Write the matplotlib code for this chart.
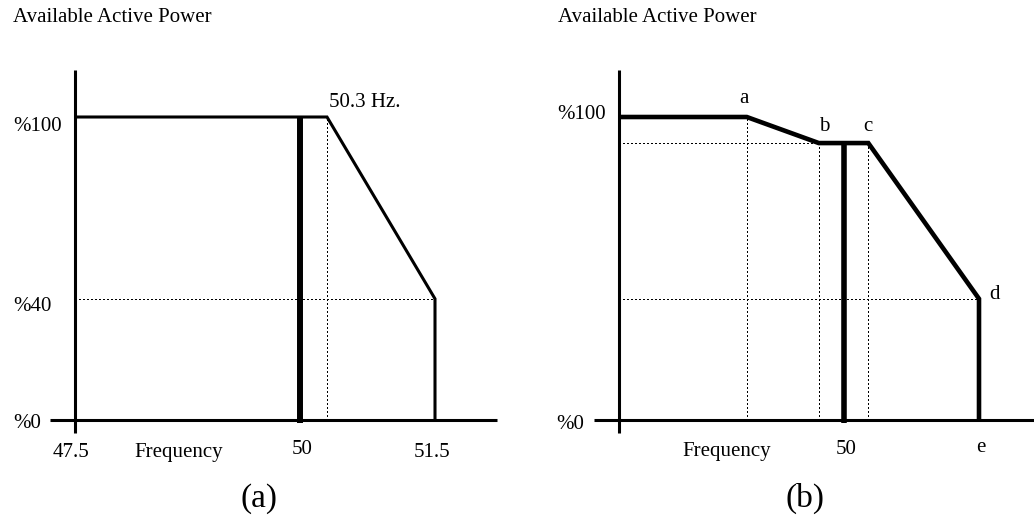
import matplotlib
matplotlib.use('Agg')
import matplotlib.pyplot as plt

plt.rcParams['font.family'] = ['Liberation Serif', 'DejaVu Serif']

# (a) power limit vs frequency
freq_a = [47.5, 50.3, 51.5, 51.5]
power_a = [100, 100, 40, 0]

# (b) curve with break points a..e
freq_b = [47.5, 48.92, 49.72, 50.27, 51.5, 51.5]
power_b = [100, 100, 91.4, 91.4, 40, 0]
point_names = ['a', 'b', 'c', 'd', 'e']

nominal = 50.0
W, H = 1034, 516
SCALE_X = 90.0      # pixels per Hz
SCALE_Y = 3.03      # pixels per percent


def make_axes(fig, x0):
    # 47.5 Hz at pixel x0, 0 % at pixel row 420
    ax = fig.add_axes([x0 / W, (H - 420) / H, 4 * SCALE_X / W, 100 * SCALE_Y / H])
    ax.set_xlim(47.5, 51.5)
    ax.set_ylim(0, 100)
    ax.axis('off')
    return ax


def label(ax, s, x, y, dx, dy, size=15, ha='left'):
    ax.annotate(s, xy=(x, y), xytext=(dx, dy), textcoords='offset pixels',
                ha=ha, va='baseline', fontsize=size, annotation_clip=False)


def draw_frame(ax, right_px):
    kw = dict(color='black', lw=2.2, solid_capstyle='butt', clip_on=False)
    ax.plot([47.5, 47.5], [-13 / SCALE_Y, 350 / SCALE_Y], **kw)
    ax.plot([47.5 - 25 / SCALE_X, 47.5 + right_px / SCALE_X], [0, 0], **kw)


# crisp one-pixel dots for the guide lines
dot = dict(color='black', lw=1.0, linestyle=(0, (1, 1.9)), antialiased=False,
           clip_on=False)

fig = plt.figure(figsize=(W / 100, H / 100), dpi=100)

# ---- panel (a)
ax = make_axes(fig, 75)
draw_frame(ax, 422)
ax.plot([47.5, freq_a[2]], [power_a[2], power_a[2]], **dot)
ax.plot([freq_a[1], freq_a[1]], [0, power_a[1]], **dot)
ax.plot(freq_a, power_a, color='black', lw=2.2, solid_joinstyle='miter',
        solid_capstyle='butt', clip_on=False)
ax.plot([nominal, nominal], [-1, 100], color='black', lw=4.3,
        solid_capstyle='butt', clip_on=False)

label(ax, 'Available Active Power', 47.5, 100, -62, 95)
label(ax, '%100', 47.5, 100, -62, -14)
label(ax, '%40', 47.5, 40, -62, -12)
label(ax, '%0', 47.5, 0, -62, -8)
label(ax, '47.5', 47.5, 0, -4, -37, ha='center')
label(ax, 'Frequency', 47.5, 0, 59, -37)
label(ax, '50', nominal, 0, 2, -34, ha='center')
label(ax, '51.5', 51.5, 0, -3, -37, ha='center')
label(ax, '50.3 Hz.', freq_a[1], 100, 2, 10)
label(ax, '(a)', 49.5, 0, 4, -87, size=24, ha='center')

# ---- panel (b)
ax = make_axes(fig, 619)
draw_frame(ax, 420)
ax.plot([47.5, freq_b[2]], [power_b[2], power_b[2]], **dot)
ax.plot([47.5, freq_b[4]], [power_b[4], power_b[4]], **dot)
for f, p in zip(freq_b[1:4], power_b[1:4]):
    ax.plot([f, f], [0, p], **dot)
ax.plot(freq_b, power_b, color='black', lw=3.3, solid_joinstyle='miter',
        solid_capstyle='butt', clip_on=False)
ax.plot([nominal, nominal], [-1, power_b[2]], color='black', lw=4.0,
        solid_capstyle='butt', clip_on=False)

label(ax, 'Available Active Power', 47.5, 100, -61, 95)
label(ax, '%100', 47.5, 100, -62, -2)
label(ax, '%0', 47.5, 0, -63, -9)
label(ax, 'Frequency', 47.5, 0, 63, -36)
label(ax, '50', nominal, 0, 2, -34, ha='center')

offsets = [(-3, 14), (5, 12), (0, 12), (16, 0), (2, -32)]
pts = list(zip(freq_b[1:], power_b[1:]))
for name, (f, p), (dx, dy) in zip(point_names, pts, offsets):
    label(ax, name, f, p, dx, dy, ha='center')

label(ax, '(b)', 49.5, 0, 6, -87, size=24, ha='center')

fig.savefig('out.png', dpi=100, facecolor='white')
